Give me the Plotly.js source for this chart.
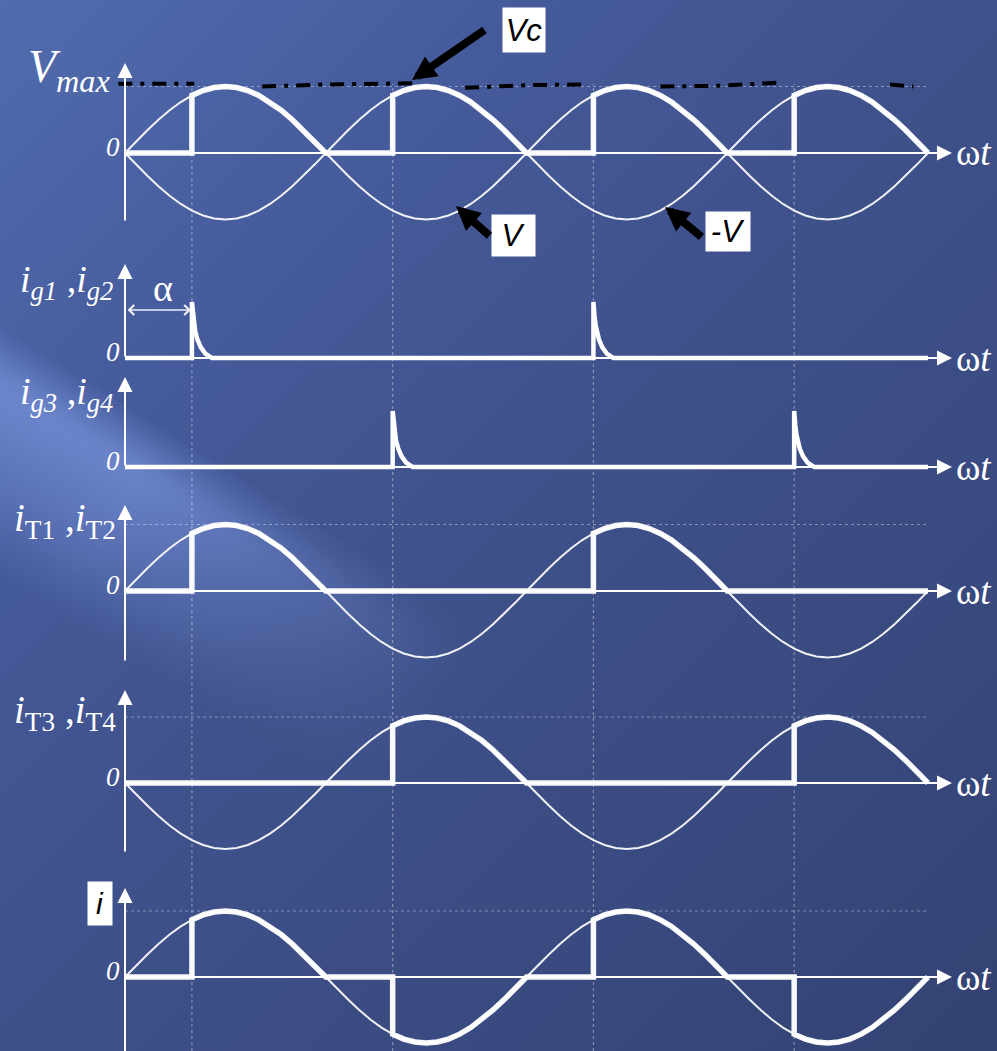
<!DOCTYPE html>
<html><head><meta charset="utf-8">
<script src="https://cdn.plot.ly/plotly-3.0.1.min.js"></script>
<style>
html,body{margin:0;padding:0;}
body{width:997px;height:1051px;overflow:hidden;position:relative;
 background:linear-gradient(135deg,#516cae 0%,#465b9c 25%,#3f518a 50%,#394a80 75%,#344272 100%);}
#streak{position:absolute;left:-330px;top:440px;width:960px;height:210px;transform:rotate(32deg);
 background:linear-gradient(to bottom,rgba(140,170,245,0) 0%,rgba(140,170,245,0.55) 22%,rgba(140,170,245,0.32) 60%,rgba(140,170,245,0) 100%);
 -webkit-mask-image:linear-gradient(to right,#000 0%,#000 45%,transparent 85%);
 mask-image:linear-gradient(to right,#000 0%,#000 45%,transparent 85%);filter:blur(10px);}
#chart{position:absolute;left:0;top:0;width:997px;height:1051px;}
</style></head>
<body>
<div id="streak"></div>
<div id="chart"></div>
<script>
// ---- data (angles in degrees, values per unit of peak) ----
const ANGLE = [0,10,20,30,40,50,60,70,80,90,100,110,120,130,140,150,160,170,180,190,200,210,220,230,240,250,260,270,280,290,300,310,320,330,340,350,360,370,380,390,400,410,420,430,440,450,460,470,480,490,500,510,520,530,540,550,560,570,580,590,600,610,620,630,640,650,660,670,680,690,700,710,720];
const V = [0,.174,.342,.5,.643,.766,.866,.94,.985,1,.985,.94,.866,.766,.643,.5,.342,.174,
 0,-.174,-.342,-.5,-.643,-.766,-.866,-.94,-.985,-1,-.985,-.94,-.866,-.766,-.643,-.5,-.342,-.174,
 0,.174,.342,.5,.643,.766,.866,.94,.985,1,.985,.94,.866,.766,.643,.5,.342,.174,
 0,-.174,-.342,-.5,-.643,-.766,-.866,-.94,-.985,-1,-.985,-.94,-.866,-.766,-.643,-.5,-.342,-.174,0];
const NEG_V = [0,-.174,-.342,-.5,-.643,-.766,-.866,-.94,-.985,-1,-.985,-.94,-.866,-.766,-.643,-.5,-.342,-.174,
 0,.174,.342,.5,.643,.766,.866,.94,.985,1,.985,.94,.866,.766,.643,.5,.342,.174,
 0,-.174,-.342,-.5,-.643,-.766,-.866,-.94,-.985,-1,-.985,-.94,-.866,-.766,-.643,-.5,-.342,-.174,
 0,.174,.342,.5,.643,.766,.866,.94,.985,1,.985,.94,.866,.766,.643,.5,.342,.174,0];

const VC_X = [0, 60,60,70,80,90,100,110,120,130,140,150,160,170,180,
 240,240,250,260,270,280,290,300,310,320,330,340,350,360,
 420,420,430,440,450,460,470,480,490,500,510,520,530,540,
 600,600,610,620,630,640,650,660,670,680,690,700,710,720];
const VC_Y = [0, 0,.866,.94,.985,1,.985,.94,.866,.766,.643,.5,.342,.174,0,
 0,.866,.94,.985,1,.985,.94,.866,.766,.643,.5,.342,.174,0,
 0,.866,.94,.985,1,.985,.94,.866,.766,.643,.5,.342,.174,0,
 0,.866,.94,.985,1,.985,.94,.866,.766,.643,.5,.342,.174,0];
const I_X = VC_X;
const I_Y = [0, 0,.866,.94,.985,1,.985,.94,.866,.766,.643,.5,.342,.174,0,
 0,-.866,-.94,-.985,-1,-.985,-.94,-.866,-.766,-.643,-.5,-.342,-.174,0,
 0,.866,.94,.985,1,.985,.94,.866,.766,.643,.5,.342,.174,0,
 0,-.866,-.94,-.985,-1,-.985,-.94,-.866,-.766,-.643,-.5,-.342,-.174,0];
const IT12_X = [0, 60,60,70,80,90,100,110,120,130,140,150,160,170,180,
 420,420,430,440,450,460,470,480,490,500,510,520,530,540, 720];
const IT12_Y = [0, 0,.866,.94,.985,1,.985,.94,.866,.766,.643,.5,.342,.174,0,
 0,.866,.94,.985,1,.985,.94,.866,.766,.643,.5,.342,.174,0, 0];
const IT34_X = [0, 240,240,250,260,270,280,290,300,310,320,330,340,350,360,
 600,600,610,620,630,640,650,660,670,680,690,700,710,720];
const IT34_Y = [0, 0,.866,.94,.985,1,.985,.94,.866,.766,.643,.5,.342,.174,0,
 0,.866,.94,.985,1,.985,.94,.866,.766,.643,.5,.342,.174,0];
const IG12_X = [0, 60,60,61,62,63,65,68,72,78, 420,420,421,422,423,425,428,432,438, 720];
const IG12_Y = [0, 0,1,.75,.58,.47,.33,.19,.08,0, 0,1,.75,.58,.47,.33,.19,.08,0, 0];
const IG34_X = [0, 240,240,241,242,243,245,248,252,258, 600,600,601,602,603,605,608,612,618, 720];
const IG34_Y = [0, 0,1,.75,.58,.47,.33,.19,.08,0, 0,1,.75,.58,.47,.33,.19,.08,0, 0];
const SKETCH_X = [-6,62,null,123,180,264,null,305,360,410,null,480,530,589,null,686,707];
const SKETCH_Y = [1.04,1.04,null,1.0,1.03,1.05,null,.98,1.02,1.03,null,1.0,1.01,1.06,null,1.03,1.0];
const FIRING = [60,240,420,600];

// ---- geometry ----
const W=997,H=1051;
const PXD = 803/720, X0 = 125;
const XR = [-X0/PXD, (W-X0)/PXD];
const PANELS = [{Z:153,A:66.5,tip:63,bot:222},{Z:358,A:56,tip:264,bot:358},{Z:467,A:56,tip:377,bot:467},
 {Z:591,A:66.5,tip:505,bot:662},{Z:783,A:66,tip:690,bot:853},{Z:977,A:66,tip:888,bot:1062}];
const yk = i => i===0?'y':'y'+(i+1);
const pv = (i,py) => (PANELS[i].Z-py)/PANELS[i].A;
const PX = x => x/W, PY = y => 1-y/H;

const THIN = {color:'rgba(255,255,255,0.92)',width:2};
const THICK = {color:'rgba(255,255,255,0.97)',width:5.5};
const tr = (x,y,i,line) => ({x:x,y:y,yaxis:yk(i),xaxis:'x',mode:'lines',line:line,hoverinfo:'skip',connectgaps:false});

const data = [
 tr(ANGLE,V,0,THIN), tr(ANGLE,NEG_V,0,THIN), tr(VC_X,VC_Y,0,THICK),
 tr(SKETCH_X,SKETCH_Y,0,{color:'black',width:4,dash:'14px,8px,4px,8px'}),
 tr(IG12_X,IG12_Y,1,{color:'white',width:4.5}),
 tr(IG34_X,IG34_Y,2,{color:'white',width:4.5}),
 tr(ANGLE,V,3,THIN), tr(IT12_X,IT12_Y,3,THICK),
 tr(ANGLE,NEG_V,4,THIN), tr(IT34_X,IT34_Y,4,THICK),
 tr(ANGLE,V,5,THIN), tr(I_X,I_Y,5,THICK)
];

const SERIF = 'Liberation Serif, DejaVu Serif, serif';
const SANS = 'Liberation Sans, Arial, sans-serif';
const ann = [];
const shapes = [];
PANELS.forEach((p,i)=>{
  const y = yk(i);
  ann.push({xref:'x',yref:y,axref:'x',ayref:y,x:741.5,y:0,ax:0,ay:0,text:'',showarrow:true,
    arrowhead:2,arrowsize:1.5,arrowwidth:2,arrowcolor:'white'});
  ann.push({xref:'x',yref:y,axref:'x',ayref:y,x:0,y:pv(i,p.tip),ax:0,ay:pv(i,p.bot),text:'',showarrow:true,
    arrowhead:2,arrowsize:1.5,arrowwidth:2,arrowcolor:'white'});
  ann.push({xref:'paper',yref:'paper',x:PX(954),y:PY(p.Z),xanchor:'left',yanchor:'middle',showarrow:false,
    text:'ω<i>t</i>',font:{family:SERIF,size:37,color:'white'}});
  ann.push({xref:'paper',yref:'paper',x:PX(122),y:PY(p.Z-6),xanchor:'right',yanchor:'middle',showarrow:false,
    text:'<i>0</i>',font:{family:SERIF,size:27,color:'white'}});
});
// panel labels
ann.push({xref:'paper',yref:'paper',x:PX(112),y:PY(70),xanchor:'right',yanchor:'middle',showarrow:false,
  text:'<i>V</i><sub><i>max</i></sub>',font:{family:SERIF,size:46,color:'white'}});
ann.push({xref:'paper',yref:'paper',x:PX(18),y:PY(282),xanchor:'left',yanchor:'middle',showarrow:false,
  text:'<i>i</i><sub><i>g1</i></sub> ,<i>i</i><sub><i>g2</i></sub>',font:{family:SERIF,size:38,color:'white'}});
ann.push({xref:'paper',yref:'paper',x:PX(18),y:PY(394),xanchor:'left',yanchor:'middle',showarrow:false,
  text:'<i>i</i><sub><i>g3</i></sub> ,<i>i</i><sub><i>g4</i></sub>',font:{family:SERIF,size:38,color:'white'}});
ann.push({xref:'paper',yref:'paper',x:PX(12),y:PY(520),xanchor:'left',yanchor:'middle',showarrow:false,
  text:'<i>i</i><sub>T1</sub> ,<i>i</i><sub>T2</sub>',font:{family:SERIF,size:39,color:'white'}});
ann.push({xref:'paper',yref:'paper',x:PX(12),y:PY(712),xanchor:'left',yanchor:'middle',showarrow:false,
  text:'<i>i</i><sub>T3</sub> ,<i>i</i><sub>T4</sub>',font:{family:SERIF,size:39,color:'white'}});
// alpha
ann.push({xref:'x',yref:'y2',axref:'x',ayref:'y2',x:59,y:pv(1,310),ax:1,ay:pv(1,310),text:'',showarrow:true,
  arrowside:'end+start',arrowhead:4,arrowsize:1.3,arrowwidth:1.5,arrowcolor:'rgba(255,255,255,0.9)'});
ann.push({xref:'paper',yref:'paper',x:PX(163),y:PY(288),xanchor:'center',yanchor:'middle',showarrow:false,
  text:'α',font:{family:SERIF,size:38,color:'white'}});
// white boxes with black text
const box = (cx,cy,w,h,t,s) => ({xref:'paper',yref:'paper',x:PX(cx),y:PY(cy),xanchor:'center',yanchor:'middle',
  showarrow:false,text:t,width:w,height:h,bgcolor:'white',borderpad:0,font:{family:SANS,size:s,color:'black'}});
ann.push(box(524,30,42,44,'<i>Vc</i>',31));
ann.push(box(513.5,235.5,43,41,'<i>V</i>',31));
ann.push(box(728,231.5,44,39,'<i>-V</i>',31));
ann.push(box(100,903.5,24,43,'<i>i</i>',30));
// black arrows
const barrow = (tx,ty,ax,ay) => ({xref:'paper',yref:'paper',x:PX(tx),y:PY(ty),ax:ax,ay:ay,text:'',showarrow:true,
  arrowhead:2,arrowsize:0.6,arrowwidth:8,arrowcolor:'black',standoff:0});
ann.push(barrow(412,80,74,-51));
ann.push(barrow(456,206,35,31));
ann.push(barrow(665,207,38,31));

const DOT = {color:'rgba(255,255,255,0.38)',width:1.2,dash:'dot'};
FIRING.forEach(f=>shapes.push({type:'line',xref:'x',yref:'paper',x0:f,x1:f,y0:0,y1:PY(84),line:DOT,layer:'below'}));
[0,3,4,5].forEach(i=>shapes.push({type:'line',xref:'x',yref:yk(i),x0:0,x1:720,y0:1,y1:1,line:DOT,layer:'below'}));

const layout = {width:W,height:H,margin:{l:0,r:0,t:0,b:0},paper_bgcolor:'rgba(0,0,0,0)',plot_bgcolor:'rgba(0,0,0,0)',
  showlegend:false,xaxis:{range:XR,visible:false,fixedrange:true},annotations:ann,shapes:shapes};
PANELS.forEach((p,i)=>{
  const ax = {range:[-(H-p.Z)/p.A,p.Z/p.A],domain:[0,1],visible:false,fixedrange:true};
  if(i>0) ax.overlaying='y';
  layout[i===0?'yaxis':'yaxis'+(i+1)] = ax;
});
Plotly.newPlot('chart',data,layout,{displayModeBar:false,staticPlot:true});
</script>
</body></html>
